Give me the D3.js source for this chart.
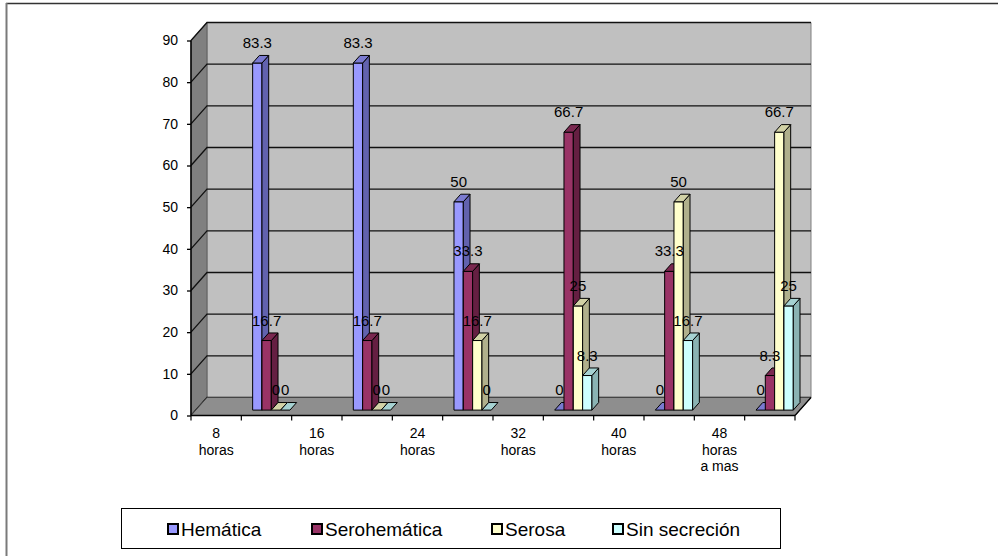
<!DOCTYPE html>
<html>
<head>
<meta charset="utf-8">
<script src="https://cdnjs.cloudflare.com/ajax/libs/d3/7.8.5/d3.min.js"></script>
<style>
  html, body { margin: 0; padding: 0; background: #fff; }
  svg { display: block; font-family: Arial, "Liberation Sans", sans-serif; }
</style>
</head>
<body>
<svg id="chart" width="998" height="556"></svg>
<script>
// Category labels (one per group, each split into lines)
const categories = [["8", "horas"], ["16", "horas"], ["24", "horas"], ["32", "horas"], ["40", "horas"], ["48", "horas", "a mas"]];

// Series
const seriesNames = ["Hemática", "Serohemática", "Serosa", "Sin secreción"];
const hematica     = [83.3, 83.3, 50, 0, 0, 0];
const serohematica = [16.7, 16.7, 33.3, 66.7, 33.3, 8.3];
const serosa       = [0, 0, 16.7, 25, 50, 66.7];
const sinSecrecion = [0, 0, 0, 8.3, 16.7, 25];
const seriesValues = [hematica, serohematica, serosa, sinSecrecion];

// Value axis ticks
const yTicks = [0, 10, 20, 30, 40, 50, 60, 70, 80, 90];

// Colours: front, side, top
const palette = [
  { front: "#9999FF", side: "#6262AE", top: "#7A7AD0" },
  { front: "#993366", side: "#651F42", top: "#7A2850" },
  { front: "#FFFFCC", side: "#B0B08C", top: "#D2D2A6" },
  { front: "#CCFFFF", side: "#8AB3B3", top: "#A6D2D2" }
];

const svg = d3.select("#chart");

// Plot geometry: front plane and depth vector
const x0 = 191, x1 = 795;
const depth = { dx: 16, dy: -18 };
const y = d3.scaleLinear().domain([0, 90]).range([415.5, 40.5]);

// 12 slots: labels sit in the odd-numbered slots, data columns in the even ones
const slot = d3.scaleBand().domain(d3.range(12)).range([x0, x1]);
const groupWidth = 37.3;
const inner = d3.scaleBand().domain(d3.range(seriesNames.length)).range([0, groupWidth]);

// Depth position of the columns (fraction of the full depth)
const zFront = 0.3, zBack = 0.72;

const P = (px, py, z) => [px + depth.dx * z, py + depth.dy * z];
const poly = pts => "M" + pts.map(p => p.join(",")).join("L") + "Z";

// Outer frame
svg.append("line").attr("x1", 6).attr("x2", 998).attr("y1", 3.5).attr("y2", 3.5)
  .attr("stroke", "#333").attr("stroke-width", 1.5);
svg.append("line").attr("x1", 6.5).attr("x2", 6.5).attr("y1", 3).attr("y2", 556)
  .attr("stroke", "#7a7a7a").attr("stroke-width", 2);

// Back wall
const wall = svg.append("g");
wall.append("path")
  .attr("d", poly([P(x0, y(90), 1), P(x1, y(90), 1), P(x1, y(0), 1), P(x0, y(0), 1)]))
  .attr("fill", "#C0C0C0").attr("stroke", "#808080").attr("stroke-width", 1);

// Side wall
wall.append("path")
  .attr("d", poly([P(x0, y(90), 0), P(x0, y(90), 1), P(x0, y(0), 1), P(x0, y(0), 0)]))
  .attr("fill", "#808080").attr("stroke", "#555").attr("stroke-width", 0.8);

// Gridlines on back and side walls
yTicks.forEach(t => {
  wall.append("path")
    .attr("d", "M" + P(x0, y(t), 0).join(",") + "L" + P(x0, y(t), 1).join(",") + "L" + P(x1, y(t), 1).join(","))
    .attr("fill", "none").attr("stroke", "#111").attr("stroke-width", 1.3);
});

// Floor
wall.append("path")
  .attr("d", poly([P(x0, y(0), 0), P(x0, y(0), 1), P(x1, y(0), 1), P(x1, y(0), 0)]))
  .attr("fill", "#8E8E8E").attr("stroke", "#444").attr("stroke-width", 1);

// Columns
const bars = svg.append("g");
const labelData = [];
categories.forEach((c, gi) => {
  const gx = slot(gi * 2 + 1) + (slot.bandwidth() - groupWidth) / 2;
  seriesValues.forEach((vals, si) => {
    const v = vals[gi];
    const xl = gx + inner(si), xr = xl + inner.bandwidth();
    const col = palette[si];
    const g = bars.append("g").attr("stroke", "#000").attr("stroke-width", 1).attr("stroke-linejoin", "round");
    if (v > 0) {
      // front face
      g.append("path").attr("fill", col.front)
        .attr("d", poly([P(xl, y(v), zFront), P(xr, y(v), zFront), P(xr, y(0), zFront), P(xl, y(0), zFront)]));
      // right side
      g.append("path").attr("fill", col.side)
        .attr("d", poly([P(xr, y(v), zFront), P(xr, y(v), zBack), P(xr, y(0), zBack), P(xr, y(0), zFront)]));
    }
    // top face
    g.append("path").attr("fill", col.top)
      .attr("d", poly([P(xl, y(v), zFront), P(xl, y(v), zBack), P(xr, y(v), zBack), P(xr, y(v), zFront)]));
    const f = P((xl + xr) / 2, y(v), zFront);
    labelData.push({ x: f[0], y: f[1] - 15, v });
  });
});

// Value labels
svg.append("g").selectAll("text").data(labelData).join("text")
  .attr("x", d => d.x).attr("y", d => d.y)
  .attr("text-anchor", "middle").attr("font-size", 15).attr("fill", "#000")
  .text(d => d.v);

// Value axis
const yAxis = svg.append("g").attr("transform", `translate(${x0},0)`)
  .call(d3.axisLeft(y).tickValues(yTicks).tickSize(4).tickPadding(9).tickFormat(d3.format("d")));
yAxis.select(".domain").attr("stroke", "#000").attr("stroke-width", 1.5).attr("d", `M0,${y(90)}V${y(0)}`);
yAxis.selectAll(".tick line").attr("stroke", "#000").attr("stroke-width", 1.3);
yAxis.selectAll(".tick text").attr("font-size", 14).attr("font-family", "Arial, 'Liberation Sans', sans-serif").attr("fill", "#000");

// Category axis: line, boundary ticks and labels
const xa = svg.append("g");
xa.append("line").attr("x1", x0).attr("x2", x1).attr("y1", y(0)).attr("y2", y(0))
  .attr("stroke", "#000").attr("stroke-width", 1.5);
xa.append("line").attr("x1", x1).attr("y1", y(0)).attr("x2", x1 + depth.dx).attr("y2", y(0) + depth.dy)
  .attr("stroke", "#000").attr("stroke-width", 1.2);
xa.selectAll("line.tk").data(d3.range(13)).join("line").attr("class", "tk")
  .attr("x1", k => k < 12 ? slot(k) : x1).attr("x2", k => k < 12 ? slot(k) : x1)
  .attr("y1", y(0)).attr("y2", y(0) + 5).attr("stroke", "#000").attr("stroke-width", 1.2);
const catText = xa.selectAll("text.cat").data(categories).join("text").attr("class", "cat")
  .attr("text-anchor", "middle").attr("font-size", 14).attr("fill", "#000");
catText.each(function (lines, i) {
  const cx = slot(i * 2) + slot.bandwidth() / 2;
  d3.select(this).selectAll("tspan").data(lines).join("tspan")
    .attr("x", cx).attr("y", (d, j) => 438 + j * 16.5).text(d => d);
});

// Legend
const legend = svg.append("g");
legend.append("rect").attr("x", 121.5).attr("y", 508.5).attr("width", 659).attr("height", 40)
  .attr("fill", "#fff").attr("stroke", "#000").attr("stroke-width", 1);
const legendX = [167, 311, 491, 612];
seriesNames.forEach((name, i) => {
  legend.append("rect").attr("x", legendX[i] + 1).attr("y", 524).attr("width", 10).attr("height", 10)
    .attr("fill", palette[i].front).attr("stroke", "#000").attr("stroke-width", 2);
  legend.append("text").attr("x", legendX[i] + 14).attr("y", 536)
    .attr("font-size", 19).attr("fill", "#000").text(name);
});
</script>
</body>
</html>
